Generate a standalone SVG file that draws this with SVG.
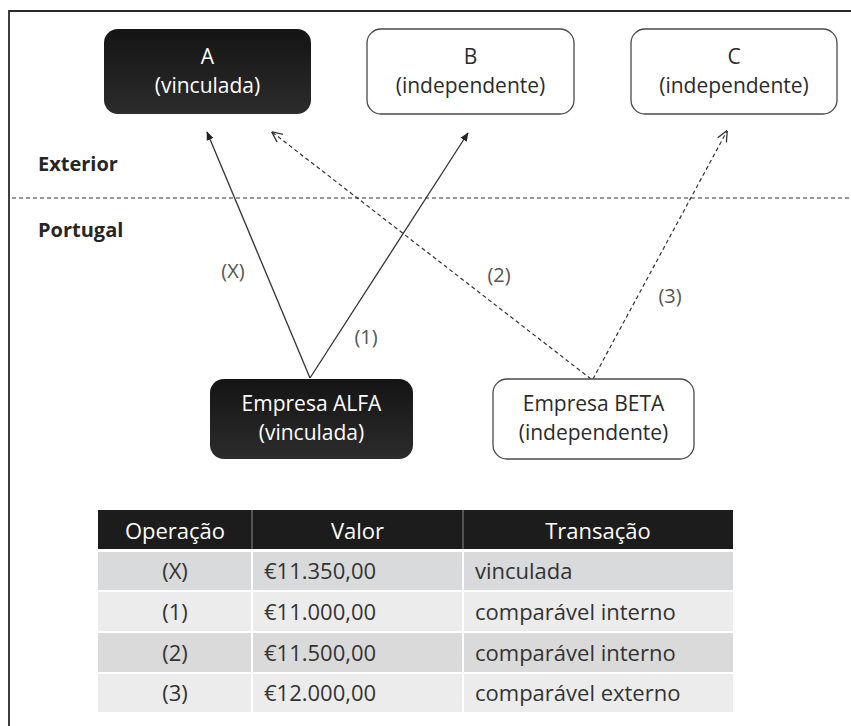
<svg xmlns="http://www.w3.org/2000/svg" width="851" height="726" viewBox="0 0 851 726">
  <style>
    .txt { font-family: "Open Sans", "Noto Sans", sans-serif; }
    .box-dark { fill: url(#darkFill); }
    .box-light { fill: #ffffff; stroke: #4a4a4a; stroke-width: 1.3; }
    .lbl-w { fill: #ffffff; font-size: 21px; text-anchor: middle; }
    .lbl-d { fill: #2b2b2b; font-size: 21px; text-anchor: middle; }
    .region { fill: #262626; font-size: 20px; font-weight: bold; }
    .op { fill: #555555; font-size: 20px; text-anchor: middle; }
    .solid { stroke: #333333; stroke-width: 1.3; fill: none; }
    .dash { stroke: #333333; stroke-width: 1.2; fill: none; stroke-dasharray: 4 3; }
    .th { fill: #ffffff; font-size: 22px; text-anchor: middle; }
    .td { fill: #333333; font-size: 22px; }
    .td-c { fill: #333333; font-size: 22px; text-anchor: middle; }
  </style>
  <defs>
    <linearGradient id="darkFill" x1="0" y1="0" x2="0" y2="1">
      <stop offset="0" stop-color="#141414"/>
      <stop offset="1" stop-color="#2c2c2c"/>
    </linearGradient>
    <marker id="headSolid" viewBox="0 0 10 10" refX="9" refY="5" markerWidth="9" markerHeight="9" markerUnits="userSpaceOnUse" orient="auto">
      <path d="M0,1 L10,5 L0,9 Z" fill="#222222"/>
    </marker>
    <marker id="headOpen" viewBox="0 0 10 10" refX="9.5" refY="5" markerWidth="11" markerHeight="11" markerUnits="userSpaceOnUse" orient="auto">
      <path d="M0,0.5 L10,5 L0,9.5" fill="none" stroke="#333333" stroke-width="1.2"/>
    </marker>
  </defs>

  <rect width="851" height="726" fill="#ffffff"/>

  <!-- outer frame (left and top edges) -->
  <path d="M9,726 L9,11 L851,11" fill="none" stroke="#2a2a2a" stroke-width="1.8"/>

  <!-- border between the two regions -->
  <line x1="12" y1="198" x2="851" y2="198" stroke="#333333" stroke-width="1.2" stroke-dasharray="4 3"/>
  <text class="txt region" x="38" y="171">Exterior</text>
  <text class="txt region" x="38" y="237">Portugal</text>

  <!-- connectors -->
  <g id="connectors">
    <line class="solid" x1="310" y1="378" x2="207" y2="132" marker-end="url(#headSolid)"/>
    <line class="solid" x1="310" y1="378" x2="468" y2="133" marker-end="url(#headSolid)"/>
    <line class="dash" x1="591" y1="379" x2="272" y2="132" marker-end="url(#headOpen)"/>
    <line class="dash" x1="593" y1="379" x2="727" y2="131" marker-end="url(#headOpen)"/>
    <text class="txt op" x="233" y="278">(X)</text>
    <text class="txt op" x="366" y="344">(1)</text>
    <text class="txt op" x="499" y="282">(2)</text>
    <text class="txt op" x="670" y="303">(3)</text>
  </g>

  <!-- foreign companies -->
  <g id="node-a">
    <rect class="box-dark" x="104" y="29" width="207" height="85" rx="14"/>
    <text class="txt lbl-w" x="207.5" y="64">A</text>
    <text class="txt lbl-w" x="207.5" y="93">(vinculada)</text>
  </g>
  <g id="node-b">
    <rect class="box-light" x="367" y="29" width="207" height="85" rx="14"/>
    <text class="txt lbl-d" x="470.5" y="64">B</text>
    <text class="txt lbl-d" x="470.5" y="93">(independente)</text>
  </g>
  <g id="node-c">
    <rect class="box-light" x="631" y="29" width="206" height="85" rx="14"/>
    <text class="txt lbl-d" x="734" y="64">C</text>
    <text class="txt lbl-d" x="734" y="93">(independente)</text>
  </g>

  <!-- domestic companies -->
  <g id="node-alfa">
    <rect class="box-dark" x="210" y="379" width="203" height="80" rx="14"/>
    <text class="txt lbl-w" x="311.5" y="411">Empresa ALFA</text>
    <text class="txt lbl-w" x="311.5" y="440">(vinculada)</text>
  </g>
  <g id="node-beta">
    <rect class="box-light" x="493" y="379" width="201" height="80" rx="14"/>
    <text class="txt lbl-d" x="593.5" y="411">Empresa BETA</text>
    <text class="txt lbl-d" x="593.5" y="440">(independente)</text>
  </g>

  <!-- operations table -->
  <g id="table">
    <rect x="98" y="510" width="635" height="39" fill="#1c1c1c"/>
    <line x1="252" y1="510" x2="252" y2="549" stroke="#8a8a8a" stroke-width="1"/>
    <line x1="463" y1="510" x2="463" y2="549" stroke="#8a8a8a" stroke-width="1"/>
    <text class="txt th" x="175" y="539">Operação</text>
    <text class="txt th" x="357.5" y="539">Valor</text>
    <text class="txt th" x="598" y="539">Transação</text>

    <rect x="98" y="552" width="635" height="38" fill="#d9dadc"/>
    <rect x="98" y="592" width="635" height="39" fill="#ececec"/>
    <rect x="98" y="633" width="635" height="39" fill="#dadada"/>
    <rect x="98" y="674" width="635" height="38" fill="#ececec"/>
    <line x1="252" y1="552" x2="252" y2="712" stroke="#ffffff" stroke-width="2"/>
    <line x1="463" y1="552" x2="463" y2="712" stroke="#ffffff" stroke-width="2"/>

    <text class="txt td-c" x="175" y="579">(X)</text>
    <text class="txt td" x="264" y="579">€11.350,00</text>
    <text class="txt td" x="475" y="579">vinculada</text>

    <text class="txt td-c" x="175" y="620">(1)</text>
    <text class="txt td" x="264" y="620">€11.000,00</text>
    <text class="txt td" x="475" y="620">comparável interno</text>

    <text class="txt td-c" x="175" y="661">(2)</text>
    <text class="txt td" x="264" y="661">€11.500,00</text>
    <text class="txt td" x="475" y="661">comparável interno</text>

    <text class="txt td-c" x="175" y="701">(3)</text>
    <text class="txt td" x="264" y="701">€12.000,00</text>
    <text class="txt td" x="475" y="701">comparável externo</text>
  </g>
</svg>
